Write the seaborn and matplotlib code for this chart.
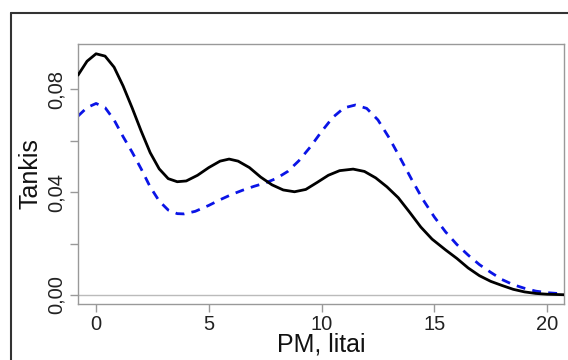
import matplotlib
matplotlib.use("Agg")
import matplotlib.pyplot as plt
import seaborn as sns
import pandas as pd
from matplotlib.lines import Line2D

# Density curve readings (PM in litai, density)
black_x = [-0.8, -0.4, 0.0, 0.4, 0.8, 1.2, 1.6, 2.0, 2.4, 2.8, 3.2, 3.6, 4.0, 4.5, 5.0, 5.5,
           5.9, 6.3, 6.8, 7.3, 7.8, 8.3, 8.8, 9.3, 9.8, 10.3, 10.8, 11.4, 11.9, 12.4, 12.9,
           13.4, 13.9, 14.4, 14.9, 15.5, 16.0, 16.5, 17.0, 17.5, 18.0, 18.5, 19.0, 19.5, 20.0, 20.75]
black_y = [0.0854, 0.0908, 0.0937, 0.0928, 0.0885, 0.0812, 0.0727, 0.0637, 0.0553, 0.0490,
           0.0452, 0.0440, 0.0443, 0.0465, 0.0495, 0.0520, 0.0528, 0.0520, 0.0495, 0.0458,
           0.0428, 0.0408, 0.0401, 0.0410, 0.0437, 0.0465, 0.0483, 0.0489, 0.0480, 0.0455,
           0.0420, 0.0378, 0.0322, 0.0264, 0.0217, 0.0175, 0.0142, 0.0105, 0.0075, 0.0053,
           0.0037, 0.0022, 0.0012, 0.0006, 0.0003, 0.0001]

blue_x = [-0.8, -0.4, 0.0, 0.4, 0.8, 1.2, 1.6, 2.0, 2.4, 2.8, 3.2, 3.6, 3.9, 4.4, 5.0, 5.5,
          6.0, 6.5, 7.0, 7.5, 8.0, 8.5, 9.0, 9.5, 10.0, 10.5, 11.0, 11.5, 12.0, 12.5, 13.0,
          13.5, 14.0, 14.5, 15.0, 15.5, 16.0, 16.5, 17.0, 17.5, 18.0, 18.5, 19.0, 19.5, 20.0, 20.75]
blue_y = [0.0695, 0.0728, 0.0744, 0.0728, 0.0680, 0.0615, 0.0555, 0.0490, 0.0420, 0.0365,
          0.0330, 0.0316, 0.0315, 0.0325, 0.0348, 0.0370, 0.0390, 0.0407, 0.0422, 0.0435,
          0.0453, 0.0480, 0.0522, 0.0575, 0.0635, 0.0690, 0.0727, 0.0738, 0.0725, 0.0680,
          0.0610, 0.0530, 0.0448, 0.0370, 0.0303, 0.0245, 0.0196, 0.0155, 0.0118, 0.0088,
          0.0060, 0.0040, 0.0026, 0.0015, 0.0009, 0.0004]

x_ticks = [0, 5, 10, 15, 20]
y_ticks = [0.00, 0.02, 0.04, 0.06, 0.08]
y_tick_labels = ["0,00", "", "0,04", "", "0,08"]

sns.set_theme(style="white")
plt.rcParams['font.family'] = ['Liberation Sans', 'DejaVu Sans']

fig = plt.figure(figsize=(5.68, 3.6), dpi=100)
ax = fig.add_axes([78/568, 1 - 304/360, (564 - 78)/568, (304 - 44)/360])

ax.axhline(0, color="#bbbbbb", lw=1.0, zorder=1)

df_b = pd.DataFrame({"x": black_x, "y": black_y})
df_u = pd.DataFrame({"x": blue_x, "y": blue_y})
sns.lineplot(data=df_b, x="x", y="y", ax=ax, color="black", lw=2.0, sort=False, zorder=3,
             solid_joinstyle="round", solid_capstyle="round")
sns.lineplot(data=df_u, x="x", y="y", ax=ax, color="#0a14e6", lw=2.0, sort=False,
             linestyle=(0, (3.2, 2.6)), zorder=2, dash_joinstyle="round")

ax.set_xlim(-0.8, 20.75)
ax.set_ylim(-0.0035, 0.0975)
ax.set_xticks(x_ticks)
ax.set_xticklabels([str(t) for t in x_ticks])
ax.set_yticks(y_ticks)
ax.set_yticklabels(y_tick_labels, rotation=90, va="center")

for s in ax.spines.values():
    s.set_color("#999999")
    s.set_linewidth(1.0)

ax.tick_params(axis="both", which="both", direction="out", length=6, width=1.0,
               bottom=True, left=True, top=False, right=False,
               color="#999999", labelsize=14.5, labelcolor="#222222")
ax.tick_params(axis="x", pad=2)
ax.tick_params(axis="y", pad=3)

ax.set_xlabel("PM, litai", fontsize=18, color="#111111", labelpad=-1)
ax.set_ylabel("Tankis", fontsize=18, color="#111111", labelpad=3)

# outer frame
fig.add_artist(Line2D([11/568, 1.0], [1 - 13/360, 1 - 13/360], transform=fig.transFigure,
                      color="#333333", lw=1.5))
fig.add_artist(Line2D([11/568, 11/568], [0.0, 1 - 13/360], transform=fig.transFigure,
                      color="#333333", lw=1.5))

fig.savefig("out.png", dpi=100)
